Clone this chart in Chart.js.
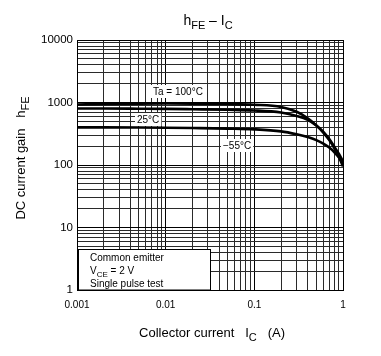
<!DOCTYPE html>
<html><head><meta charset="utf-8">
<script src="https://cdn.jsdelivr.net/npm/chart.js@4"></script>
<style>html,body{margin:0;padding:0;background:#fff}#wrap{width:381px;height:356px;position:relative}</style>
</head><body><div id="wrap"><canvas id="c" width="381" height="356"></canvas></div>
<script>
// ---- data ----
const currentA = [0.001,0.002,0.005,0.01,0.02,0.05,0.1,0.2,0.3,0.4,0.5,0.6,0.7,0.8,0.9,1.0];
const hfe100 = [930,945,960,965,960,945,920,850,710,560,430,330,250,185,135,95];
const hfe25  = [800,800,795,790,780,765,745,690,610,530,430,340,260,195,150,115];
const hfeM55 = [400,400,398,395,390,382,372,345,310,280,250,220,190,160,132,108];
const seriesNames = ['Ta = 100°C','25°C','−55°C'];
const xTickLabels = ['0.001','0.01','0.1','1'];
const yTickLabels = ['1','10','100','1000','10000'];
const noteLines = ['Common emitter','V|CE| = 2 V','Single pulse test'];

const FONT = '"Liberation Sans", Arial, sans-serif';
function runsWidth(ctx, runs, size, subSize){
  let w=0; for(const r of runs){ctx.font=(r.sub?subSize:size)+'px '+FONT; w+=ctx.measureText(r.t).width;} return w;
}
function drawRuns(ctx, runs, x, y, align, size, subSize){
  const total = runsWidth(ctx, runs, size, subSize);
  let cx = align==='center'? x-total/2 : align==='right'? x-total : x;
  ctx.textAlign='left'; ctx.textBaseline='alphabetic';
  for(const r of runs){
    ctx.font=(r.sub?subSize:size)+'px '+FONT;
    ctx.fillText(r.t, cx, y + (r.sub? size*0.3:0));
    cx += ctx.measureText(r.t).width;
  }
  return total;
}
function parseRuns(s){
  return s.split('|').map((t,i)=>({t, sub: i%2===1})).filter(r=>r.t.length);
}
function decadeTicks(min,max){
  const out=[]; const e0=Math.floor(Math.log10(min)+1e-9), e1=Math.ceil(Math.log10(max)-1e-9);
  for(let e=e0;e<=e1;e++) for(let m=1;m<=9;m++){const v=+(m*Math.pow(10,e)).toPrecision(6); if(v>=min-1e-12&&v<=max+1e-12) out.push({value:v});}
  return out;
}
function isDecade(v){const l=Math.log10(v);return Math.abs(l-Math.round(l))<1e-6;}

const textPlugin = {
  id:'texts',
  afterDatasetsDraw(chart){
    const ctx=chart.ctx, a=chart.chartArea;
    ctx.save();
    const labels=[
      {t:seriesNames[0], x:153, y:95},
      {t:seriesNames[1], x:137, y:123},
      {t:seriesNames[2], x:223, y:149}
    ];
    for(const l of labels){
      ctx.font='10px '+FONT;
      const w=ctx.measureText(l.t).width;
      ctx.fillStyle='#fff'; ctx.fillRect(l.x-2,l.y-10,w+4,13);
      ctx.fillStyle='#000'; ctx.textAlign='left'; ctx.textBaseline='alphabetic';
      ctx.fillText(l.t,l.x,l.y);
    }
    const bx=a.left+1, by=a.bottom-41, bw=132, bh=41;
    ctx.fillStyle='#fff'; ctx.fillRect(bx,by,bw,bh);
    ctx.strokeStyle='#000'; ctx.lineWidth=1; ctx.strokeRect(bx+0.5,by+0.5,bw,bh-0.5);
    ctx.fillStyle='#000';
    noteLines.forEach((s,i)=>{ drawRuns(ctx, parseRuns(s), bx+12, by+12+i*13, 'left', 10, 8); });
    drawRuns(ctx, parseRuns('h|FE| – I|C|'), 208, 25, 'center', 14, 11);
    drawRuns(ctx, parseRuns('Collector current   I|C|   (A)'), 212, 337, 'center', 13, 11);
    ctx.save(); ctx.translate(25,158); ctx.rotate(-Math.PI/2);
    drawRuns(ctx, parseRuns('DC current gain   h|FE|'), 0, 0, 'center', 13, 11);
    ctx.restore();
    ctx.restore();
  }
};

const gridColor = c => isDecade(c.tick.value) ? '#000' : '#2a2a2a';

new Chart(document.getElementById('c'), {
  type:'line',
  data:{
    datasets:[
      {label:seriesNames[0], data:currentA.map((x,i)=>({x, y:hfe100[i]}))},
      {label:seriesNames[1], data:currentA.map((x,i)=>({x, y:hfe25[i]}))},
      {label:seriesNames[2], data:currentA.map((x,i)=>({x, y:hfeM55[i]}))}
    ].map(d=>Object.assign(d,{borderColor:'#000',borderWidth:2.6,pointRadius:0,fill:false,cubicInterpolationMode:'monotone'}))
  },
  options:{
    responsive:false, animation:false, devicePixelRatio:1,
    layout:{padding:{top:40,right:38,left:0,bottom:0}},
    plugins:{legend:{display:false},title:{display:false},tooltip:{enabled:false}},
    scales:{
      x:{type:'logarithmic', min:0.001, max:1,
        afterBuildTicks:s=>{s.ticks=decadeTicks(0.001,1);},
        afterFit:s=>{s.height=66;},
        grid:{color:gridColor, lineWidth:1, drawTicks:false},
        border:{display:true,color:'#000',width:1},
        ticks:{autoSkip:false,maxRotation:0,padding:9,color:'#000',font:{size:10,family:FONT},
          callback:(v)=>{ if(!isDecade(v)) return ''; const k=Math.round(Math.log10(v))+3; return xTickLabels[k]??''; }}
      },
      y:{type:'logarithmic', min:1, max:10000,
        afterBuildTicks:s=>{s.ticks=decadeTicks(1,10000);},
        afterFit:s=>{s.width=77;},
        grid:{color:gridColor, lineWidth:1, drawTicks:false},
        border:{display:true,color:'#000',width:1},
        ticks:{autoSkip:false,padding:4,color:'#000',font:{size:11.5,family:FONT},
          callback:(v)=>{ if(!isDecade(v)) return ''; const k=Math.round(Math.log10(v)); return yTickLabels[k]??''; }}
      }
    }
  },
  plugins:[textPlugin]
});
</script></body></html>
